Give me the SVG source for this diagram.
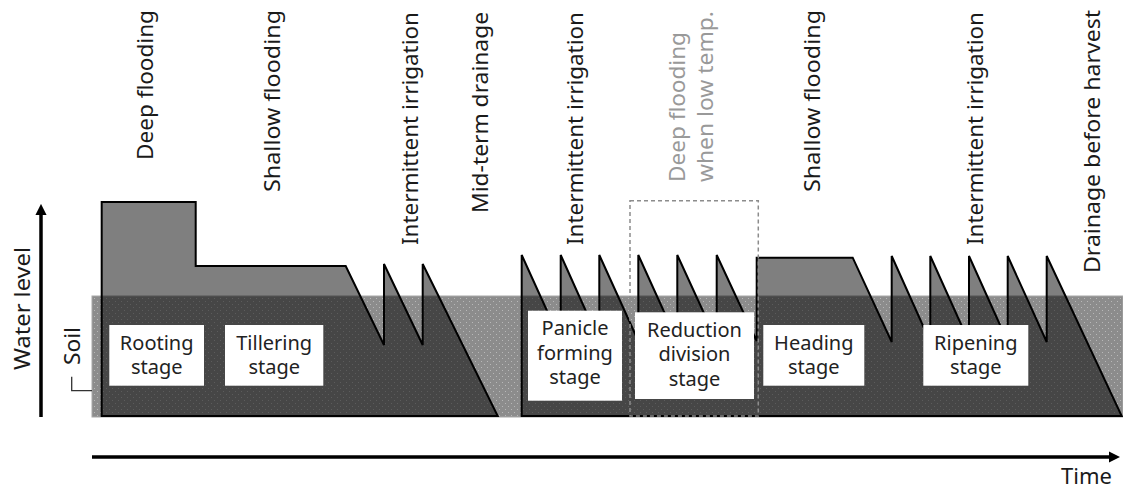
<svg xmlns="http://www.w3.org/2000/svg" width="1123" height="488" viewBox="0 0 1123 488">
<defs>
<pattern id="dots" width="6" height="6" patternUnits="userSpaceOnUse">
<rect width="6" height="6" fill="#8c8c8c"/>
<rect x="1" y="1" width="1" height="1" fill="#b8b8b8"/>
<rect x="4" y="4" width="1" height="1" fill="#b8b8b8"/>
</pattern>
<marker id="arr" viewBox="0 0 10 10" refX="1" refY="5" markerWidth="3.2" markerHeight="3.2" orient="auto" markerUnits="strokeWidth">
<path d="M0,0 L10,5 L0,10 Z" fill="#000"/>
</marker>
<style>
.top{font-family:"Noto Sans","Open Sans","Liberation Sans",sans-serif;font-size:22px;fill:#1a1a1a}
.gray{fill:#999}
.lbl{font-family:"Noto Sans","Open Sans","Liberation Sans",sans-serif;font-size:20px;fill:#222;text-anchor:middle}
.water{fill:#000;fill-opacity:0.5;stroke:#000;stroke-width:2;stroke-linejoin:miter}
.box{fill:#fff}
.axis{stroke:#000;stroke-width:3.5;fill:none}
</style>
</defs>

<g id="soil">
<rect x="92" y="296" width="1031" height="121" fill="url(#dots)" stroke="#a8a8a8" stroke-width="1"/>
</g>

<g id="water1">
<path class="water" d="M101.7,416 L101.7,202 L195.7,202 L195.7,266 L345.7,266 L384,345 L384,264 L422.7,345 L422.7,264 L497.7,416 Z"/>
</g>
<g id="water2">
<path class="water" d="M521.7,416 L521.7,255 L560.7,341 L560.7,255 L599.3,341 L599.3,255 L638.3,341 L638.3,255 L677.3,341 L677.3,255 L716.7,341 L716.7,255 L756.7,341 L756.7,257.7 L852.7,257.7 L891.7,342 L891.7,256 L930.3,342 L930.3,256 L969,342 L969,256 L1007.7,342 L1007.7,256 L1046.7,342 L1046.7,256 L1121.7,416 Z"/>
</g>

<g id="rooting">
<rect class="box" x="109.3" y="325" width="94.7" height="60.7"/>
<text class="lbl" x="156.7" y="349.5">Rooting</text>
<text class="lbl" x="156.7" y="374">stage</text>
</g>
<g id="tillering">
<rect class="box" x="225" y="325" width="98.3" height="60.7"/>
<text class="lbl" x="274.2" y="349.5">Tillering</text>
<text class="lbl" x="274.2" y="374">stage</text>
</g>
<g id="panicle">
<rect class="box" x="528" y="310.7" width="94" height="90"/>
<text class="lbl" x="575" y="335">Panicle</text>
<text class="lbl" x="575" y="359.5">forming</text>
<text class="lbl" x="575" y="384">stage</text>
</g>
<g id="reduction">
<rect class="box" x="635" y="312.3" width="119" height="86.7"/>
<text class="lbl" x="694.5" y="336.5">Reduction</text>
<text class="lbl" x="694.5" y="361">division</text>
<text class="lbl" x="694.5" y="385.5">stage</text>
</g>
<g id="heading">
<rect class="box" x="763.3" y="325" width="101" height="60.7"/>
<text class="lbl" x="813.8" y="349.5">Heading</text>
<text class="lbl" x="813.8" y="374">stage</text>
</g>
<g id="ripening">
<rect class="box" x="923.3" y="325" width="105" height="60.7"/>
<text class="lbl" x="975.8" y="349.5">Ripening</text>
<text class="lbl" x="975.8" y="374">stage</text>
</g>

<g id="lowtemp">
<rect x="630" y="200.7" width="128.3" height="215.3" fill="none" stroke="#8c8c8c" stroke-width="1.5" stroke-dasharray="4 3"/>
<text class="top gray" transform="translate(685,182) rotate(-90)" textLength="150" lengthAdjust="spacingAndGlyphs">Deep flooding</text>
<text class="top gray" transform="translate(713,182) rotate(-90)" textLength="171" lengthAdjust="spacingAndGlyphs">when low temp.</text>
</g>

<g id="top-labels">
<text class="top" transform="translate(153,160) rotate(-90)" textLength="150" lengthAdjust="spacingAndGlyphs">Deep flooding</text>
<text class="top" transform="translate(280,192) rotate(-90)" textLength="182" lengthAdjust="spacingAndGlyphs">Shallow flooding</text>
<text class="top" transform="translate(418,245) rotate(-90)" textLength="233" lengthAdjust="spacingAndGlyphs">Intermittent irrigation</text>
<text class="top" transform="translate(488,213) rotate(-90)" textLength="201" lengthAdjust="spacingAndGlyphs">Mid-term drainage</text>
<text class="top" transform="translate(583,245) rotate(-90)" textLength="233" lengthAdjust="spacingAndGlyphs">Intermittent irrigation</text>
<text class="top" transform="translate(820,192) rotate(-90)" textLength="182" lengthAdjust="spacingAndGlyphs">Shallow flooding</text>
<text class="top" transform="translate(983,245) rotate(-90)" textLength="233" lengthAdjust="spacingAndGlyphs">Intermittent irrigation</text>
<text class="top" transform="translate(1100,273) rotate(-90)" textLength="263" lengthAdjust="spacingAndGlyphs">Drainage before harvest</text>
</g>

<g id="axis-labels">
<text class="top" transform="translate(30,370) rotate(-90)" textLength="123" lengthAdjust="spacingAndGlyphs">Water level</text>
<text class="top" transform="translate(80,365) rotate(-90)" textLength="38" lengthAdjust="spacingAndGlyphs">Soil</text>
<text class="top" x="1112" y="484" text-anchor="end">Time</text>
</g>

<g id="connectors">
<line class="axis" x1="41" y1="417" x2="41" y2="214" marker-end="url(#arr)"/>
<line class="axis" x1="92" y1="457" x2="1110" y2="457" marker-end="url(#arr)"/>
<path d="M71.7,376.7 L71.7,390.7 L92,390.7" fill="none" stroke="#333" stroke-width="1.3"/>
</g>
</svg>
